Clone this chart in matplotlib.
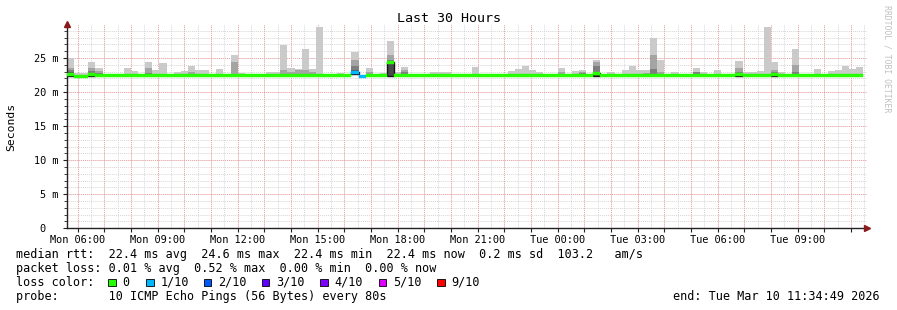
import matplotlib
matplotlib.use("Agg")
import matplotlib.pyplot as plt
from matplotlib.patches import Rectangle
import numpy as np

# smokeping style graph, 30 hours ending Tue Mar 10 11:34:49 2026
# rrd data consolidated in 16 minute steps, last step ends 11:28:00
step_h = 16 / 60
span_h = 30.0
data_end_h = span_h - (6 + 49 / 60) / 60
first_label_h = (25 + 11 / 60) / 60  # Mon 06:00 measured from start

tick_labels = ["Mon 06:00", "Mon 09:00", "Mon 12:00", "Mon 15:00", "Mon 18:00",
               "Mon 21:00", "Tue 00:00", "Tue 03:00", "Tue 06:00", "Tue 09:00"]

# sorted ping values per 16 min step (ms): outer smoke = slowest ping
rtt_max = [
    24.95, 22.75, 22.75, 24.45, 23.55, 22.5, 22.5, 22.5, 23.57, 23.1, 22.5, 24.35, 23.2, 24.2, 22.7, 23.0,
    23.1, 23.9, 23.2, 23.3, 22.5, 23.45, 22.5, 25.5, 22.85, 22.5, 22.7, 22.7, 22.95, 22.95, 26.95, 23.55,
    23.4, 26.4, 23.35, 29.5, 22.5, 22.5, 22.85, 22.7, 25.95, 22.5, 23.6, 22.5, 22.85, 27.45, 22.95, 23.7,
    22.5, 22.5, 22.65, 23.0, 23.0, 23.0, 22.5, 22.5, 22.65, 23.7, 22.5, 22.5, 22.5, 22.5, 23.1, 23.4,
    23.85, 23.2, 22.95, 22.5, 22.5, 23.6, 22.6, 23.15, 23.3, 22.5, 24.75, 22.5, 22.95, 22.5, 23.25, 23.85,
    23.2, 23.3, 28.0, 24.75, 22.5, 22.95, 22.7, 22.5, 23.5, 22.95, 22.5, 23.25, 22.7, 22.5, 24.5, 22.9,
    22.95, 23.1, 29.5, 24.4, 22.95, 22.5, 26.4, 22.5, 22.7, 23.4, 22.5, 23.15, 23.25, 23.85, 23.4, 23.7,
]
rtt_p9 = [
    23.6, 22.4, 22.4, 23.6, 23.1, 22.4, 22.4, 22.4, 22.4, 22.4, 22.4, 23.6, 22.4, 22.4, 22.4, 22.4,
    22.4, 22.9, 22.4, 22.4, 22.4, 22.4, 22.4, 24.35, 22.4, 22.4, 22.4, 22.4, 22.4, 22.4, 23.3, 23.0,
    23.2, 23.2, 22.9, 22.4, 22.4, 22.4, 22.4, 22.4, 24.75, 22.4, 22.9, 22.4, 22.4, 25.5, 22.4, 23.3,
    22.4, 22.4, 22.4, 22.4, 22.4, 22.4, 22.4, 22.4, 22.4, 22.4, 22.4, 22.4, 22.4, 22.4, 22.4, 22.4,
    22.4, 22.4, 22.4, 22.4, 22.4, 22.9, 22.4, 22.4, 22.95, 22.4, 24.35, 22.4, 22.4, 22.4, 22.4, 22.4,
    22.4, 22.8, 25.5, 22.9, 22.4, 22.4, 22.4, 22.4, 23.0, 22.4, 22.4, 22.4, 22.4, 22.4, 23.5, 22.4,
    22.4, 22.4, 22.4, 23.3, 22.4, 22.4, 24.0, 22.4, 22.4, 22.4, 22.4, 22.4, 22.4, 22.4, 22.4, 22.4,
]
rtt_p8 = [
    23.2, 22.4, 22.4, 23.1, 22.85, 22.4, 22.4, 22.4, 22.4, 22.4, 22.4, 22.8, 22.4, 22.4, 22.4, 22.4,
    22.4, 22.4, 22.4, 22.4, 22.4, 22.4, 22.4, 22.6, 22.4, 22.4, 22.4, 22.4, 22.4, 22.4, 22.4, 22.4,
    22.4, 22.4, 22.4, 22.4, 22.4, 22.4, 22.4, 22.4, 23.8, 22.4, 22.4, 22.4, 22.4, 24.65, 22.4, 22.95,
    22.4, 22.4, 22.4, 22.4, 22.4, 22.4, 22.4, 22.4, 22.4, 22.4, 22.4, 22.4, 22.4, 22.4, 22.4, 22.4,
    22.4, 22.4, 22.4, 22.4, 22.4, 22.4, 22.4, 22.4, 22.85, 22.4, 23.85, 22.4, 22.4, 22.4, 22.4, 22.4,
    22.4, 22.4, 23.4, 22.4, 22.4, 22.4, 22.4, 22.4, 22.9, 22.4, 22.4, 22.4, 22.4, 22.4, 23.0, 22.4,
    22.4, 22.4, 22.4, 22.9, 22.4, 22.4, 22.9, 22.4, 22.4, 22.4, 22.4, 22.4, 22.4, 22.4, 22.4, 22.4,
]
rtt_p7 = [
    22.9, 22.4, 22.4, 22.85, 22.65, 22.4, 22.4, 22.4, 22.4, 22.4, 22.4, 22.4, 22.4, 22.4, 22.4, 22.4,
    22.4, 22.4, 22.4, 22.4, 22.4, 22.4, 22.4, 22.4, 22.4, 22.4, 22.4, 22.4, 22.4, 22.4, 22.4, 22.4,
    22.4, 22.4, 22.4, 22.4, 22.4, 22.4, 22.4, 22.4, 23.3, 22.4, 22.4, 22.4, 22.4, 24.6, 22.4, 22.4,
    22.4, 22.4, 22.4, 22.4, 22.4, 22.4, 22.4, 22.4, 22.4, 22.4, 22.4, 22.4, 22.4, 22.4, 22.4, 22.4,
    22.4, 22.4, 22.4, 22.4, 22.4, 22.4, 22.4, 22.4, 22.4, 22.4, 22.95, 22.4, 22.4, 22.4, 22.4, 22.4,
    22.4, 22.4, 22.4, 22.4, 22.4, 22.4, 22.4, 22.4, 22.4, 22.4, 22.4, 22.4, 22.4, 22.4, 22.8, 22.4,
    22.4, 22.4, 22.4, 22.4, 22.4, 22.4, 22.4, 22.4, 22.4, 22.4, 22.4, 22.4, 22.4, 22.4, 22.4, 22.4,
]
# fastest ping of each step (bottom of the smoke)
rtt_min = [22.3] * 40 + [22.6] + [22.3] * 71
median_rtt = [
    22.57, 22.35, 22.35, 22.55, 22.45, 22.4, 22.4, 22.4, 22.4, 22.4, 22.4, 22.4, 22.4, 22.4, 22.4, 22.4,
    22.4, 22.4, 22.4, 22.4, 22.4, 22.4, 22.4, 22.4, 22.4, 22.4, 22.4, 22.4, 22.4, 22.4, 22.4, 22.4,
    22.4, 22.4, 22.4, 22.4, 22.4, 22.4, 22.4, 22.4, 22.95, 22.35, 22.4, 22.4, 22.4, 24.4, 22.4, 22.5,
    22.4, 22.4, 22.4, 22.4, 22.4, 22.4, 22.4, 22.4, 22.4, 22.4, 22.4, 22.4, 22.4, 22.4, 22.4, 22.4,
    22.4, 22.4, 22.4, 22.4, 22.4, 22.4, 22.4, 22.4, 22.4, 22.4, 22.75, 22.4, 22.4, 22.4, 22.4, 22.4,
    22.4, 22.4, 22.4, 22.4, 22.4, 22.4, 22.4, 22.4, 22.4, 22.4, 22.4, 22.4, 22.4, 22.4, 22.55, 22.4,
    22.4, 22.4, 22.4, 22.65, 22.4, 22.4, 22.4, 22.4, 22.4, 22.4, 22.4, 22.4, 22.4, 22.4, 22.4, 22.4,
]
# lost pings out of 10 per step
loss = [0] * 40 + [1, 1] + [0] * 70

loss_labels = ["0", "1/10", "2/10", "3/10", "4/10", "5/10", "9/10"]
loss_colors = ["#26ff00", "#00b8ff", "#0059ff", "#5e00ff", "#7e00ff", "#dd00ff", "#ff0000"]
loss_steps = [0, 1, 2, 3, 4, 5, 9]

smoke_colors = ["#cacaca", "#a4a4a4", "#7e7e7e", "#585858"]

mono = "DejaVu Sans Mono"
plt.rcParams["font.family"] = mono

W, H = 897, 310
fig = plt.figure(figsize=(W / 100, H / 100), dpi=100)
fig.patch.set_facecolor("white")
ax = fig.add_axes([66.5 / W, (H - 228.3) / H, 800 / W, 204.3 / H])
ax.set_xlim(0, span_h)
ax.set_ylim(0, 30)

# grid: half hours / 1 ms grey, hours / 5 ms red
for t in np.arange(first_label_h % 0.5, span_h, 0.5):
    ax.axvline(t, color="#d6d6d6", lw=0.7, ls=(0, (1, 1)), zorder=0.5)
for v in range(1, 30):
    ax.axhline(v, color="#d6d6d6", lw=0.7, ls=(0, (1, 1)), zorder=0.5)
hours = np.arange(first_label_h, span_h, 1.0)
for t in hours:
    ax.axvline(t, color="#f2a4a4", lw=0.7, ls=(0, (1, 1)), zorder=0.6)
for v in range(5, 30, 5):
    ax.axhline(v, color="#f2a4a4", lw=0.7, ls=(0, (1, 1)), zorder=0.6)

n = len(rtt_max)
starts = data_end_h - step_h * (n - np.arange(n))
edges = np.append(starts, starts[-1] + step_h)
low = np.array(rtt_min)

def stepped(vals):
    vals = np.asarray(vals, dtype=float)
    return np.append(vals, vals[-1])

for top, col in zip([rtt_max, rtt_p9, rtt_p8, rtt_p7], smoke_colors):
    ax.fill_between(edges, stepped(low), stepped(np.maximum(top, low)), step="post",
                    color=col, lw=0, zorder=2)

# spread below an elevated median
med = np.array(median_rtt)
spread = med - low > 0.2
ax.bar(starts[spread], (med - low)[spread], bottom=low[spread], width=step_h, align="edge",
       color="#4a4a4a", edgecolor="#151515", lw=1.0, zorder=3)

# median line coloured by loss
band = 0.22
med_cols = [loss_colors[loss_steps.index(l)] for l in loss]
ax.bar(starts, 2 * band, bottom=med - band, width=step_h, align="edge",
       color=med_cols, edgecolor=med_cols, lw=0.3, zorder=4)

# axes
for s in ["top", "right"]:
    ax.spines[s].set_visible(False)
for s in ["left", "bottom"]:
    ax.spines[s].set_linewidth(1.0)
    ax.spines[s].set_color("#222222")
ax.plot(1.0, 0, marker=">", ms=4, color="#8b1a1a", transform=ax.transAxes, clip_on=False, zorder=6)
ax.plot(0, 1.0, marker="^", ms=4, color="#8b1a1a", transform=ax.transAxes, clip_on=False, zorder=6)

ax.set_xticks(hours)
ax.set_xticklabels([tick_labels[i // 3] if i % 3 == 0 else "" for i in range(len(hours))])
ax.set_yticks(range(0, 30, 5))
ax.set_yticklabels(["0  "] + ["%d m" % v for v in range(5, 30, 5)])
ax.set_yticks(range(0, 30), minor=True)
ax.tick_params(axis="both", which="major", labelsize=7.4, length=3, width=0.8, color="#222222")
ax.tick_params(axis="y", which="minor", length=2, width=0.6, color="#222222")
ax.tick_params(axis="x", pad=2)
ax.tick_params(axis="y", pad=3)

fig.text(11 / W, 1 - 126.5 / H, "Seconds", rotation=90, fontsize=8.2, ha="center", va="center")
fig.text(448.5 / W, 1 - 19 / H, "Last 30 Hours", fontsize=9.6, ha="center", va="center")
fig.text(886.5 / W, 1 - 59 / H, "RRDTOOL / TOBI OETIKER", rotation=270, fontsize=5.9,
         color="#c0c0c0", ha="center", va="center")

lx = 16 / W
fs = 8.5
fig.text(lx, 1 - 254.3 / H,
         "median rtt:  22.4 ms avg  24.6 ms max  22.4 ms min  22.4 ms now  0.2 ms sd  103.2   am/s",
         fontsize=fs, va="center")
fig.text(lx, 1 - 268.3 / H,
         "packet loss: 0.01 % avg  0.52 % max  0.00 % min  0.00 % now", fontsize=fs, va="center")
fig.text(lx, 1 - 282.3 / H, "loss color:", fontsize=fs, va="center")
fig.text(lx, 1 - 296.7 / H, "probe:       10 ICMP Echo Pings (56 Bytes) every 80s",
         fontsize=fs, va="center")
fig.text(880 / W, 1 - 296.7 / H, "end: Tue Mar 10 11:34:49 2026", fontsize=fs,
         ha="right", va="center")

box_x = [108, 146, 203.5, 261.5, 320, 378.5, 437]
for bx, lab, col in zip(box_x, loss_labels, loss_colors):
    fig.patches.append(Rectangle((bx / W, 1 - 286 / H), 7.5 / W, 7.5 / H, transform=fig.transFigure,
                                 facecolor=col, edgecolor="#000000", lw=0.6))
    fig.text((bx + 14.5) / W, 1 - 282.3 / H, lab, fontsize=fs, va="center")

fig.savefig("out.png", dpi=100)
